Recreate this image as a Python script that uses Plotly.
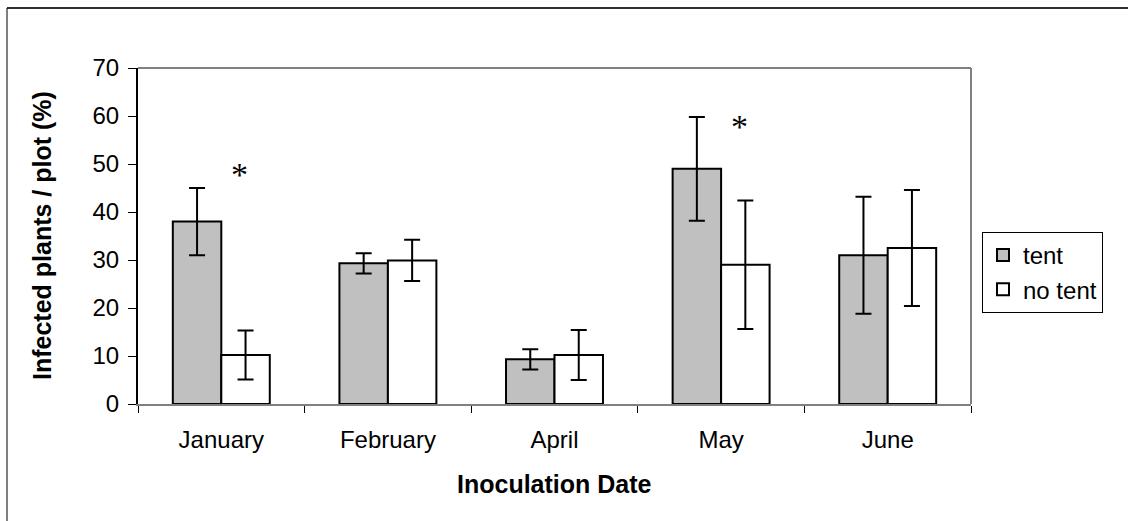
import plotly.graph_objects as go

# Infection rate per inoculation date, with and without tent cover
months = ["January", "February", "April", "May", "June"]
tent = [38.0, 29.3, 9.3, 49.0, 31.0]
tent_err = [7.0, 2.1, 2.1, 10.8, 12.2]
no_tent = [10.2, 29.9, 10.2, 29.0, 32.5]
no_tent_err = [5.1, 4.3, 5.2, 13.4, 12.1]
significant = ["January", "May"]
star_level = [48.5, 58.5]

W, H = 1128, 521
L, R, T, B = 138, 157, 68, 117
pw, ph = W - L - R, H - T - B

def px_x(p):
    return (p - L) / pw

def px_y(p):
    return (H - B - p) / ph

fig = go.Figure()
fig.add_trace(go.Bar(
    name="tent", x=months, y=tent,
    marker=dict(color="#C0C0C0", line=dict(color="black", width=2)),
    error_y=dict(type="data", array=tent_err, color="black", thickness=2, width=8),
))
fig.add_trace(go.Bar(
    name="no tent", x=months, y=no_tent,
    marker=dict(color="white", line=dict(color="black", width=2)),
    error_y=dict(type="data", array=no_tent_err, color="black", thickness=2, width=8),
))

font_main = "Liberation Sans, Arial, sans-serif"

fig.update_layout(
    width=W, height=H,
    margin=dict(l=L, r=R, t=T, b=B, pad=0),
    paper_bgcolor="white", plot_bgcolor="white",
    barmode="group", bargap=0.418, bargroupgap=0,
    font=dict(family=font_main, size=24, color="black"),
    showlegend=True,
    legend=dict(
        x=px_x(982), y=px_y(313), xanchor="left", yanchor="bottom",
        bordercolor="black", borderwidth=1, bgcolor="white",
        font=dict(size=24), tracegroupgap=0,
    ),
    xaxis=dict(
        type="category", tickson="boundaries", ticks="outside", ticklen=7,
        tickcolor="black", tickwidth=1, showline=True, linecolor="#808080",
        linewidth=2, showgrid=False, ticklabelstandoff=13,
        tickfont=dict(size=24),
    ),
    yaxis=dict(
        range=[0, 70], dtick=10, ticks="outside", ticklen=8, tickcolor="black",
        tickwidth=1, showline=True, linecolor="black", linewidth=2,
        showgrid=False, zeroline=False, tickfont=dict(size=24),
        ticklabelstandoff=4,
    ),
)

# plot-area frame (top and right edges)
fig.add_shape(type="line", xref="paper", yref="paper", x0=0, x1=1, y0=1, y1=1,
              line=dict(color="#808080", width=2), layer="below")
fig.add_shape(type="line", xref="paper", yref="paper", x0=1, x1=1, y0=0, y1=1,
              line=dict(color="#808080", width=2), layer="below")

# outer chart border
fig.add_shape(type="line", xref="paper", yref="paper",
              x0=px_x(7), x1=px_x(1140), y0=px_y(8), y1=px_y(8),
              line=dict(color="#303030", width=2))
fig.add_shape(type="line", xref="paper", yref="paper",
              x0=px_x(7), x1=px_x(7), y0=px_y(8), y1=px_y(540),
              line=dict(color="black", width=1))

# significance markers
for m, lvl in zip(significant, star_level):
    fig.add_annotation(x=m, y=lvl, xref="x", yref="y", text="*", showarrow=False,
                       xshift=18, yshift=-3, yanchor="middle",
                       font=dict(family="Liberation Serif, Times New Roman, serif",
                                 size=34, color="black"))

# axis titles
fig.add_annotation(x=0.5, y=px_y(484), xref="paper", yref="paper",
                   text="<b>Inoculation Date</b>", showarrow=False,
                   xanchor="center", yanchor="middle", font=dict(size=25))
fig.add_annotation(x=px_x(42), y=0.5, xref="paper", yref="paper",
                   text="<b>Infected plants / plot (%)</b>", showarrow=False,
                   textangle=-90, xanchor="center", yanchor="middle",
                   font=dict(size=25))

fig.write_html("out.html")
